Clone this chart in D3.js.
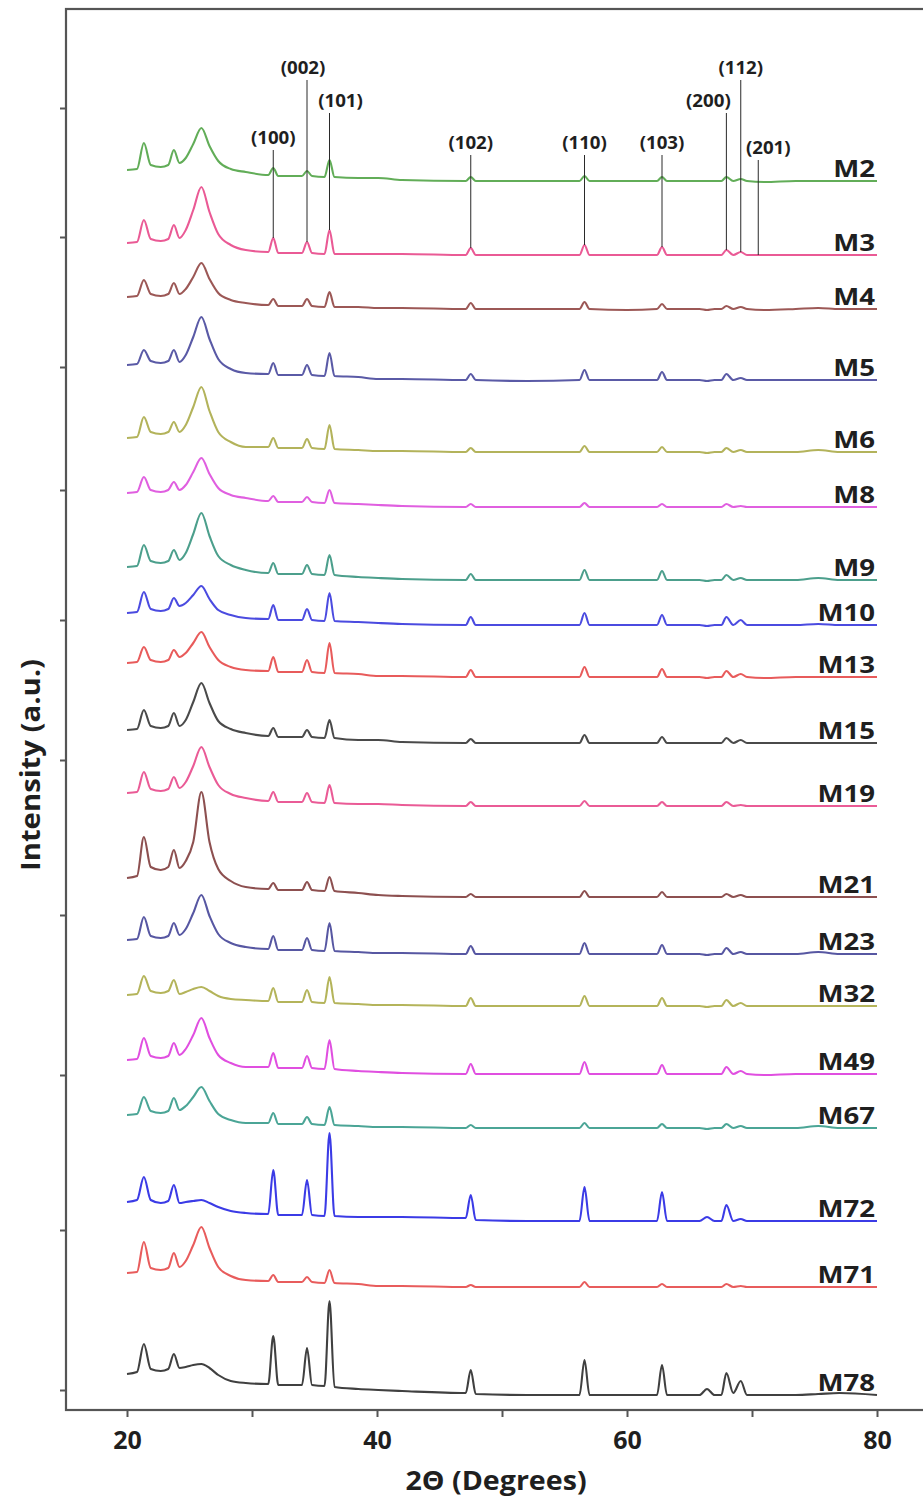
<!DOCTYPE html>
<html>
<head>
<meta charset="utf-8">
<script src="https://cdn.jsdelivr.net/npm/d3@7"></script>
<style>
  html, body { margin: 0; padding: 0; background: #fff; }
  svg { display: block; }
  text { font-family: "Open Sans", "Lato", sans-serif; font-weight: 700; fill: #1f1f1f; }
</style>
</head>
<body>
<svg id="chart" width="923" height="1502"></svg>
<script>
// Diffraction angle (2θ, degrees) at which every pattern is sampled
const twoTheta = [20.0, 20.8, 21.35, 21.9, 22.7, 23.3, 23.75, 24.2, 24.7, 25.3,
  25.95, 26.6, 27.3, 28.3, 29.5, 31.3, 31.7, 32.1, 34.0, 34.4,
  34.8, 35.8, 36.2, 36.6, 38.5, 40.1, 42.0, 47.1, 47.5, 47.9,
  52.0, 56.2, 56.6, 57.0, 60.0, 62.4, 62.8, 63.2, 65.8, 66.4,
  67.0, 67.55, 67.95, 68.5, 69.1, 69.6, 71.0, 73.5, 75.3, 77.0, 80.0];

// Sample names, top to bottom
const sampleNames = ["M2", "M3", "M4", "M5", "M6", "M8", "M9", "M10", "M13", "M15",
  "M19", "M21", "M23", "M32", "M49", "M67", "M72", "M71", "M78"];

// Vertical offset of each pattern (a.u.)
const baselineOffsets = [1229, 1155, 1101, 1030, 958, 903, 830, 785, 733, 667,
  604, 513, 456, 404, 336, 282, 189, 123, 15];

// Intensity above each pattern's own baseline (a.u.), one value per 2θ sample
const intensityM2  = [11,12,38,16,14,16,31,18,23,37, 53,35,20,12,9,6,13,5,5,10, 5,4,21,4,3,3,1,0,4,0, 0,0,5,0,0,0,4,0,0,0, 0,0,4,0,2,0,-1,0,0,0, 0];
const intensityM3  = [12,13,35,16,14,16,30,17,25,45, 68,43,21,10,5,3,17,2,2,13, 2,1,25,1,1,1,1,0,7,0, 0,0,10,0,0,0,8,0,0,0, 0,0,5,0,3,0,0,0,0,0, 0];
const intensityM4  = [12,13,29,15,13,15,26,15,20,32, 46,30,16,9,6,4,10,3,3,10, 3,2,17,2,2,1,1,0,6,0, 0,0,7,0,-1,0,5,0,0,-1, 0,0,3,0,2,0,-1,0,1,0, 0];
const intensityM5  = [15,16,30,19,17,19,30,18,25,43, 63,41,21,11,7,6,17,5,5,15, 5,4,27,4,3,1,1,0,6,0, -1,0,10,0,0,0,8,0,0,-1, 0,0,6,0,2,0,0,0,0,0, 0];
const intensityM6  = [14,15,35,20,18,20,30,20,27,45, 65,41,20,10,5,5,14,4,4,13, 4,3,27,3,2,1,1,0,4,0, 0,0,6,0,0,0,5,0,0,-1, 0,0,4,0,2,0,0,0,2,0, 0];
const intensityM8  = [14,15,30,17,15,17,25,17,22,35, 49,33,19,12,9,6,11,5,5,10, 5,4,17,4,3,2,1,0,3,0, 0,0,4,0,0,0,3,0,0,0, 0,0,3,0,1,0,0,0,0,0, 0];
const intensityM9  = [13,14,35,19,17,19,30,20,27,46, 67,44,24,15,10,7,17,6,6,15, 6,5,25,5,3,2,1,0,6,0, 0,0,10,0,0,0,9,0,0,-1, 0,0,5,0,2,0,0,0,2,0, 0];
const intensityM10 = [12,13,33,16,14,16,27,19,22,30, 39,26,15,10,7,6,20,5,5,16, 5,4,32,4,3,2,1,0,8,0, 0,0,12,0,0,0,10,0,0,-1, 0,0,8,0,5,0,0,0,1,0, 0];
const intensityM13 = [14,15,30,17,15,17,27,20,24,34, 45,30,17,10,7,6,20,5,5,17, 5,4,34,4,3,1,1,0,7,0, 0,0,10,0,0,0,8,0,0,-1, 0,0,6,0,3,0,-1,0,0,0, 0];
const intensityM15 = [13,14,33,17,15,17,30,17,23,41, 60,40,22,14,10,7,15,6,6,13, 6,5,23,5,3,3,1,0,4,0, 0,0,8,0,0,0,6,0,0,0, 0,0,5,0,3,0,0,0,0,0, 0];
const intensityM19 = [13,14,34,17,15,17,29,18,24,40, 59,39,21,12,8,5,14,4,4,13, 4,3,21,3,2,2,1,0,4,0, 0,0,5,0,0,0,4,0,0,0, 0,0,4,0,1,0,0,0,0,0, 0];
const intensityM21 = [19,21,60,30,27,30,47,29,36,55, 105,55,28,16,10,8,14,7,7,15, 7,6,20,6,4,2,1,0,3,0, 0,0,6,0,0,0,5,0,0,0, 0,0,3,0,2,0,0,0,0,0, 0];
const intensityM23 = [14,15,37,18,16,18,31,19,25,41, 59,38,20,11,7,5,18,4,4,16, 4,3,31,3,2,1,1,0,8,0, 0,0,11,0,0,0,9,0,0,-1, 0,0,6,0,2,0,0,0,2,0, 0];
const intensityM32 = [11,12,30,15,13,15,26,12,14,17, 19,15,10,7,6,5,18,4,4,16, 4,3,29,3,2,1,1,0,8,0, 0,0,10,0,0,0,8,0,0,-1, 0,0,6,0,3,0,0,0,0,0, 0];
const intensityM49 = [14,15,36,18,16,18,31,19,25,39, 56,36,19,11,7,7,21,6,6,18, 6,5,34,5,3,2,1,0,10,0, 0,0,12,0,0,0,9,0,0,0, 0,0,7,0,3,0,-1,0,0,0, 0];
const intensityM67 = [13,14,31,17,15,17,30,18,22,31, 41,27,14,8,5,5,15,4,4,11, 4,3,21,3,2,1,1,0,3,0, 0,0,5,0,0,0,4,0,0,-1, 0,0,4,0,2,0,0,0,2,0, 0];
const intensityM72 = [19,21,44,21,18,20,36,18,19,20, 21,18,14,10,8,7,51,6,6,41, 6,5,88,5,4,4,4,3,26,1, 0,0,34,0,0,0,29,0,0,4, 0,0,16,0,2,0,0,0,0,0, 0];
const intensityM71 = [14,15,45,19,17,19,34,20,26,42, 60,39,20,11,7,6,12,5,5,10, 5,4,17,4,3,1,1,0,2,0, 0,0,5,0,0,0,3,0,0,0, 0,0,3,0,1,0,0,0,0,0, 0];
const intensityM78 = [21,23,51,26,24,26,41,27,28,30, 31,27,20,14,12,11,59,10,10,47, 10,9,94,8,6,5,4,2,25,1, 0,0,35,0,0,0,30,0,0,6, 0,0,22,2,14,0,0,0,1,2, 0];

const patterns = [intensityM2, intensityM3, intensityM4, intensityM5, intensityM6,
  intensityM8, intensityM9, intensityM10, intensityM13, intensityM15, intensityM19,
  intensityM21, intensityM23, intensityM32, intensityM49, intensityM67, intensityM72,
  intensityM71, intensityM78];

// Reflections indexed on the patterns
const hklLabels = ["(100)", "(002)", "(101)", "(102)", "(110)", "(103)", "(200)", "(112)", "(201)"];
const hklPositions = [31.7, 34.4, 36.2, 47.5, 56.6, 62.8, 67.95, 69.1, 70.5];

// Axis ticks
const xTickValues = [20, 30, 40, 50, 60, 70, 80];
const xTickLabels = ["20", "", "40", "", "60", "", "80"];
const yTickValues = [1302, 1173, 1043, 920, 790, 650, 495, 335, 180, 20];

// ---- styling / layout ----
const lineColors = ["#62ad58", "#ea5a95", "#9c5856", "#5a5aa6", "#b3b35b", "#e05fe0",
  "#4c9f8c", "#4b4be0", "#e85b5b", "#4a4a4a", "#ea5b96", "#8d5050", "#5757a2",
  "#b4b45a", "#e04fe0", "#4ba596", "#3b3be6", "#e85c5c", "#404040"];
// label centre (a.u.) and horizontal nudge (px) of each reflection label
const hklLabelLevel = [1272, 1342, 1309, 1267, 1267, 1267, 1309, 1342, 1262];
const hklLabelShift = [0, -4, 11, 0, 0, 0, -18, 0, 10];

const svg = d3.select("#chart");
const W = 923, H = 1502;
svg.append("rect").attr("width", W).attr("height", H).attr("fill", "#fff");

const x = d3.scaleLinear().domain([15.12, 84.88]).range([66, 938]);
const y = d3.scaleLinear().domain([0, 1401]).range([1410, 9]);

// patterns
const line = d3.line()
  .x(d => x(d[0]))
  .y(d => y(d[1]))
  .curve(d3.curveMonotoneX);

const gPat = svg.append("g");
patterns.forEach((vals, i) => {
  const pts = twoTheta.map((t, k) => [t, baselineOffsets[i] + vals[k]]);
  gPat.append("path")
    .attr("d", line(pts))
    .attr("fill", "none")
    .attr("stroke", lineColors[i])
    .attr("stroke-width", 2.1)
    .attr("stroke-linejoin", "round");
});

// sample labels
patterns.forEach((vals, i) => {
  gPat.append("text")
    .attr("transform", `translate(${x(80) - 2},${y(baselineOffsets[i]) - 4}) scale(1.15,1)`)
    .attr("text-anchor", "end")
    .attr("font-size", 24)
    .text(sampleNames[i]);
});

// reflection markers, dropped down to the M3 pattern
const ref = patterns[1], refBase = baselineOffsets[1];
const refAt = t => {
  const k = d3.bisectLeft(twoTheta, t);
  if (twoTheta[k] === t) return ref[k];
  const t0 = twoTheta[k - 1], t1 = twoTheta[k];
  return ref[k - 1] + (ref[k] - ref[k - 1]) * (t - t0) / (t1 - t0);
};
const gHkl = svg.append("g");
hklPositions.forEach((t, i) => {
  const ly = y(hklLabelLevel[i]);
  gHkl.append("line")
    .attr("x1", x(t)).attr("x2", x(t))
    .attr("y1", ly + 12)
    .attr("y2", y(refBase + refAt(t)))
    .attr("stroke", "#2a2a2a")
    .attr("stroke-width", 1);
  gHkl.append("text")
    .attr("transform", `translate(${x(t) + hklLabelShift[i]},${ly}) scale(1.1,1)`)
    .attr("text-anchor", "middle")
    .attr("dy", "0.36em")
    .attr("font-size", 17)
    .text(hklLabels[i]);
});

// axes
const xAxis = d3.axisBottom(x).tickValues(xTickValues)
  .tickSize(7).tickPadding(24)
  .tickFormat((d, i) => xTickLabels[i]);
const gx = svg.append("g").attr("transform", "translate(0,1410)").call(xAxis);
gx.select(".domain").remove();
gx.selectAll(".tick line").attr("stroke", "#555").attr("stroke-width", 2);
gx.selectAll(".tick text")
  .attr("font-size", 25).attr("font-family", "Open Sans, sans-serif")
  .attr("font-weight", 700).attr("fill", "#1f1f1f")
  .attr("dy", "0.32em");

const yAxis = d3.axisLeft(y).tickValues(yTickValues).tickSize(6).tickFormat("");
const gy = svg.append("g").attr("transform", "translate(66,0)").call(yAxis);
gy.select(".domain").remove();
gy.selectAll(".tick line").attr("stroke", "#555").attr("stroke-width", 2);

// frame
svg.append("rect")
  .attr("x", 66).attr("y", 9)
  .attr("width", x(84.88) - 66).attr("height", 1410 - 9)
  .attr("fill", "none").attr("stroke", "#555").attr("stroke-width", 2.2);

// axis titles
svg.append("text")
  .attr("transform", "translate(496,1490) scale(1.1,1)")
  .attr("text-anchor", "middle")
  .attr("font-size", 26)
  .text("2Θ (Degrees)");
svg.append("text")
  .attr("transform", "translate(40,765) rotate(-90) scale(1.22,1.1)")
  .attr("text-anchor", "middle")
  .attr("font-size", 24)
  .text("Intensity (a.u.)");
</script>
</body>
</html>
